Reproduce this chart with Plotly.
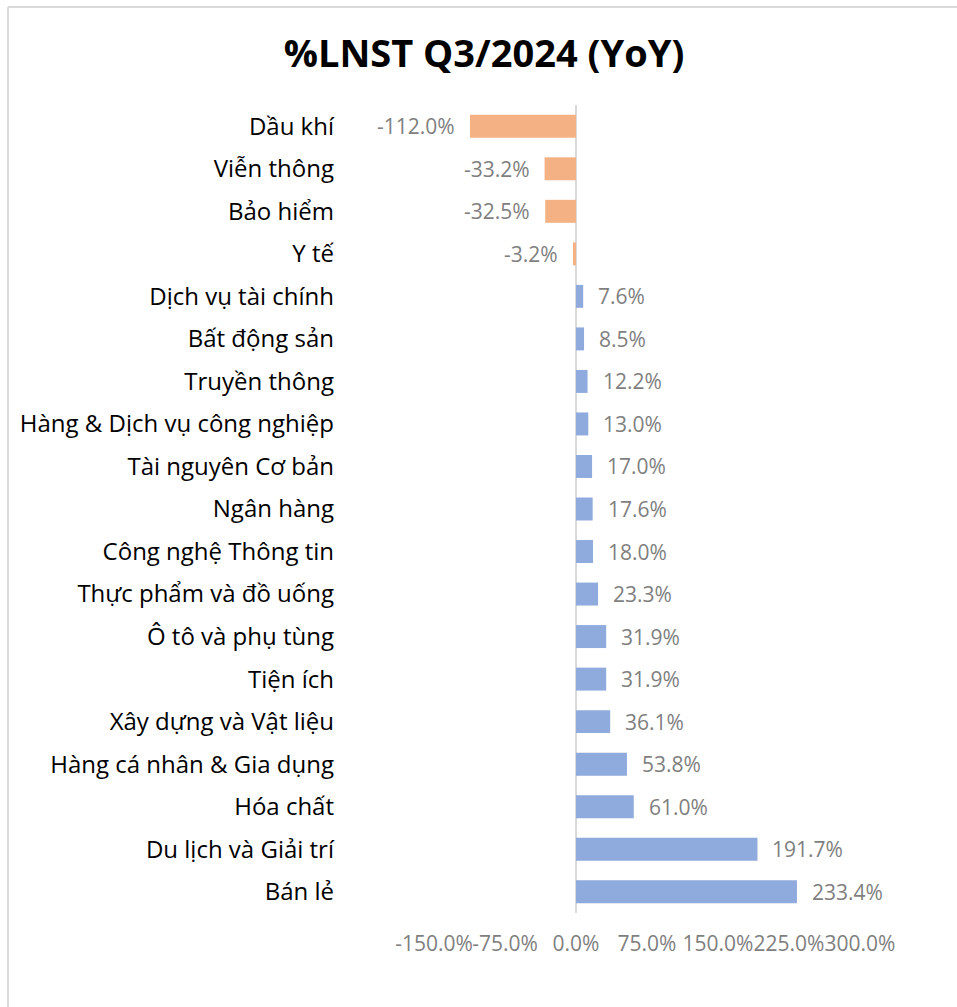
import plotly.graph_objects as go

categories = ["Dầu khí", "Viễn thông", "Bảo hiểm", "Y tế", "Dịch vụ tài chính",
              "Bất động sản", "Truyền thông", "Hàng & Dịch vụ công nghiệp",
              "Tài nguyên Cơ bản", "Ngân hàng", "Công nghệ Thông tin",
              "Thực phẩm và đồ uống", "Ô tô và phụ tùng", "Tiện ích",
              "Xây dựng và Vật liệu", "Hàng cá nhân & Gia dụng", "Hóa chất",
              "Du lịch và Giải trí", "Bán lẻ"]
values = [-112.0, -33.2, -32.5, -3.2, 7.6, 8.5, 12.2, 13.0, 17.0, 17.6, 18.0,
          23.3, 31.9, 31.9, 36.1, 53.8, 61.0, 191.7, 233.4]
tick_vals = [-150, -75, 0, 75, 150, 225, 300]

NEG = "#F4B183"
POS = "#8FAADC"
colors = [NEG if v < 0 else POS for v in values]

W, H = 957, 1007
L, R = 434, 860
T, B = 105, 913

fig = go.Figure(go.Bar(
    x=values, y=categories, orientation="h",
    marker=dict(color=colors, line=dict(width=0)),
    width=0.54,
))

for c, v in zip(categories, values):
    fig.add_annotation(
        x=v, y=c, text=f"{v:.1f}%", showarrow=False,
        xanchor="left" if v >= 0 else "right",
        xshift=13 if v >= 0 else -13,
        font=dict(family="Open Sans", size=21, color="#7F7F7F"),
    )

pw, ph = R - L, B - T
def px(xp):
    return (xp - L) / pw
def py(yp):
    return (B - yp) / ph

border = dict(color="#D9D9D9", width=2)
fig.add_shape(type="line", xref="paper", yref="paper",
              x0=px(8), x1=px(965), y0=py(7), y1=py(7), line=border)
fig.add_shape(type="line", xref="paper", yref="paper",
              x0=px(8), x1=px(8), y0=py(7), y1=py(1015), line=border)

fig.update_layout(
    width=W, height=H,
    margin=dict(l=L, r=W - R, t=T, b=H - B, autoexpand=False),
    paper_bgcolor="white", plot_bgcolor="white",
    showlegend=False,
    title=dict(text="<b>%LNST Q3/2024 (YoY)</b>", x=484 / W, xanchor="center",
               y=1 - 54 / H, yanchor="middle",
               font=dict(family="Open Sans", size=38, color="black")),
    xaxis=dict(range=[-150, 300], tickvals=tick_vals,
               ticktext=[f"{t:.1f}%" for t in tick_vals],
               showgrid=False, zeroline=True, zerolinecolor="#D9D9D9",
               zerolinewidth=2, showline=False, ticks="", tickangle=0,
               tickfont=dict(family="Open Sans", size=21, color="#7F7F7F"),
               ticklabelstandoff=16, fixedrange=True),
    yaxis=dict(categoryorder="array", categoryarray=categories,
               autorange="reversed", showgrid=False, zeroline=False,
               showline=False, ticks="",
               tickfont=dict(family="Open Sans", size=24, color="black"),
               ticklabelstandoff=99, automargin=False),
)

fig.write_html("out.html", config={"displayModeBar": False},
               post_script="document.body.style.margin='0';document.body.style.overflow='hidden';")
